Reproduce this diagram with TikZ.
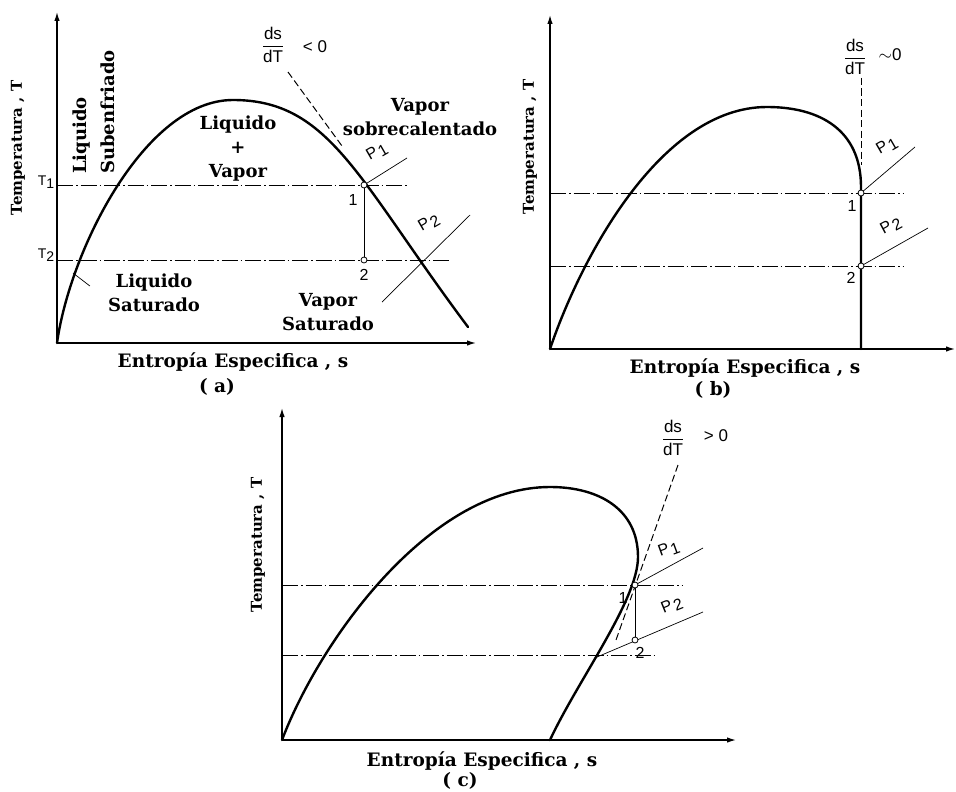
\documentclass[tikz,border=0pt]{standalone}
\usepackage{fontspec}
\setmainfont{DejaVu Serif}
\newfontfamily\lblsans{Liberation Sans}
\usetikzlibrary{arrows.meta}
\newcommand{\dsdt}{$\displaystyle\frac{\hbox{\lblsans ds}}{\hbox{\lblsans dT}}$}

\begin{document}
\begin{tikzpicture}[x=1pt,y=-1pt,
    axis/.style={line width=1.3pt,-{Latex[length=9pt,width=5.5pt]}},
    sat/.style={line width=2.4pt,line join=round,line cap=round},
    iso/.style={line width=0.7pt,dash pattern=on 16pt off 3pt on 1.5pt off 3pt},
    tang/.style={line width=1pt,dash pattern=on 7pt off 3.5pt},
    pline/.style={line width=0.7pt},
    ptc/.style={circle,draw,line width=0.8pt,fill=white,inner sep=0pt,minimum size=6pt},
    lbl/.style={font=\fontsize{18}{24}\selectfont\bfseries,align=center,inner sep=0pt},
    ent/.style={font=\fontsize{18.5}{20}\selectfont\bfseries,inner sep=0pt},
    tlbl/.style={font=\fontsize{15}{17}\selectfont\bfseries,rotate=90,inner sep=0pt},
    num/.style={font=\lblsans\fontsize{16}{18}\selectfont,inner sep=0pt},
    frc/.style={font=\lblsans\fontsize{17}{19}\selectfont,inner sep=0pt}
  ]
  \useasboundingbox (0,0) rectangle (956,792);

  \coordinate (oa) at (57,343);
  \draw[axis] (oa) -- (57,12);
  \draw[axis] (oa) -- (476,343);
  \draw[sat] (oa) .. controls (70,250) and (145,100) .. (233,100)
    .. controls (330,100) and (358,180) .. (468,327);
  \coordinate (a1) at (364,185);
  \coordinate (a2) at (364,260);
  \draw[iso] (oa |- a1) -- (407,185);
  \draw[iso] (oa |- a2) -- (452,260);
  \draw[tang] (288,72) -- (342,146);
  \draw[pline] (a1) -- (a2);
  \draw[pline] (a1) -- (407,158);
  \draw[pline] (382,302) -- (470,215);
  \node[ptc] (pa1) at (a1) {};
  \node[ptc] (pa2) at (a2) {};
  \node[num] (la1) at (353,200) {1};
  \node[num] (la2) at (364,275) {2};
  \node[num,rotate=30] (pp1) at (377,152) {P\kern1.5pt\raisebox{-3pt}{1}};
  \node[num,rotate=30] (pp2) at (429,223) {P\kern1.5pt\raisebox{-3pt}{2}};
  \node[num,font=\lblsans\fontsize{14}{16}\selectfont] (t1) at (46,182) {T\raisebox{-3pt}{1}};
  \node[num,font=\lblsans\fontsize{14}{16}\selectfont] (t2) at (46,255) {T\raisebox{-3pt}{2}};
  \node[frc] (fa) at (273,45) {\dsdt};
  \node[frc] (fa0) at (315,47) {< 0};
  \node[lbl,rotate=90,align=left,font=\fontsize{18}{28}\selectfont\bfseries] (sub) at (94,112) {Liquido\\Subenfriado};
  \node[lbl] (lv) at (238,149) {Liquido\\+\\Vapor};
  \node[lbl] (vs) at (420,117) {Vapor\\sobrecalentado};
  \node[lbl] (ls) at (154,293) {Liquido\\Saturado};
  \coordinate (lsl) at (73,273);
  \draw[pline] ([shift={(-18,-7)}]ls.west) -- (lsl);
  \node[lbl] (vsat) at (328,312) {Vapor\\Saturado};
  \node[tlbl] (ta) at (18,148) {Temperatura , T};
  \node[ent] (ea) at (233,362) {Entropía Especifica , s};
  \node[ent] (ca) at (217,387) {( a)};

  \coordinate (ob) at (550,349);
  \draw[axis] (ob) -- (550,15);
  \draw[axis] (ob) -- (955,349);
  \draw[sat] (ob) .. controls (580,260) and (660,107) .. (767,107)
    .. controls (820,107) and (861,130) .. (861,187) -- (861,349);
  \coordinate (b1) at (861,193);
  \coordinate (b2) at (861,266);
  \draw[iso] (ob |- b1) -- (903,193);
  \draw[iso] (ob |- b2) -- (903,266);
  \draw[tang] (861,78) -- (861,165);
  \draw[pline] (b1) -- (915,147);
  \draw[pline] (b2) -- (928,228);
  \node[ptc] (pb1) at (b1) {};
  \node[ptc] (pb2) at (b2) {};
  \node[num] (lb1) at (852,206) {1};
  \node[num] (lb2) at (851,278) {2};
  \node[num,rotate=30] (qp1) at (887,146) {P\kern1.5pt\raisebox{-3pt}{1}};
  \node[num,rotate=28] (qp2) at (891,226) {P\kern1.5pt\raisebox{-3pt}{2}};
  \node[frc] (fb) at (855,57) {\dsdt};
  \node[frc] (fb0) at (890,55) {$\sim$0};
  \node[tlbl] (tb) at (530,147) {Temperatura , T};
  \node[ent] (eb) at (745,368) {Entropía Especifica , s};
  \node[ent] (cb) at (713,390) {( b)};

  \coordinate (oc) at (282,740);
  \draw[axis] (oc) -- (282,408);
  \draw[axis] (oc) -- (736,740);
  \draw[sat] (oc) .. controls (320,640) and (430,487) .. (550,487)
    .. controls (600,487) and (638,510) .. (638,557)
    .. controls (638,600) and (578,680) .. (550,740);
  \coordinate (c1) at (635,585);
  \coordinate (c2) at (635,640);
  \draw[iso] (oc |- c1) -- (682,585);
  \draw[iso] (282,655) -- (658,655);
  \draw[tang] (678,465) -- (616,640);
  \draw[pline] (c1) -- (c2);
  \draw[pline] (c1) -- (703,548);
  \draw[pline] (597,657) -- (703,612);
  \node[ptc] (pc1) at (c1) {};
  \node[ptc] (pc2) at (c2) {};
  \node[num] (lc1) at (623,598) {1};
  \node[num] (lc2) at (640,653) {2};
  \node[num,rotate=20] (rp1) at (669,549) {P\kern1.5pt\raisebox{-3pt}{1}};
  \node[num,rotate=22] (rp2) at (672,606) {P\kern1.5pt\raisebox{-3pt}{2}};
  \node[frc] (fc) at (673,438) {\dsdt};
  \node[frc] (fc0) at (716,436) {> 0};
  \node[tlbl] (tc) at (258,545) {Temperatura , T};
  \node[ent] (ec) at (482,761) {Entropía Especifica , s};
  \node[ent] (cc) at (460,781) {( c)};
\end{tikzpicture}
\end{document}
